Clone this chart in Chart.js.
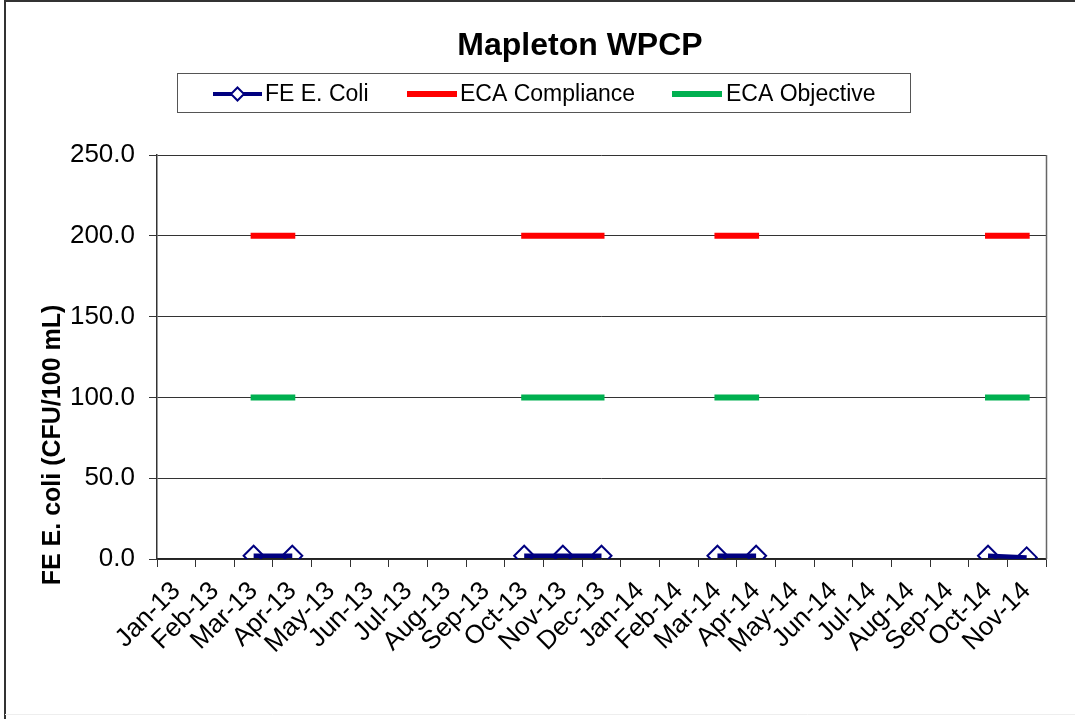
<!DOCTYPE html>
<html>
<head>
<meta charset="utf-8">
<script src="https://cdn.jsdelivr.net/npm/chart.js@4.4.1/dist/chart.umd.min.js"></script>
<style>
  html, body { margin: 0; padding: 0; background: #fff; }
  #wrap { width: 1075px; height: 719px; position: relative; }
</style>
</head>
<body>
<div id="wrap"><canvas id="c" width="1075" height="719"></canvas></div>
<script>
const months = ['Jan-13','Feb-13','Mar-13','Apr-13','May-13','Jun-13','Jul-13','Aug-13','Sep-13','Oct-13','Nov-13','Dec-13',
                'Jan-14','Feb-14','Mar-14','Apr-14','May-14','Jun-14','Jul-14','Aug-14','Sep-14','Oct-14','Nov-14'];
const ecoli = [null,null,2,2,null,null,null,null,null,2,2,2,null,null,2,2,null,null,null,null,null,2,1];
const compliance = [null,null,200,200,null,null,null,null,null,200,200,200,null,null,200,200,null,null,null,null,null,200,200];
const objective = [null,null,100,100,null,null,null,null,null,100,100,100,null,null,100,100,null,null,null,null,null,100,100];
const yTicks = [0, 50, 100, 150, 200, 250];
const seriesNames = ['FE E. Coli', 'ECA Compliance', 'ECA Objective'];
const chartTitle = 'Mapleton WPCP';
const yTitle = 'FE E. coli (CFU/100 mL)';

const FONT = "'Liberation Sans', Arial, sans-serif";
const NAVY = '#000080', RED = '#FF0000', GREEN = '#00B050';

const decor = {
  id: 'decor',
  afterDraw(chart) {
    const ctx = chart.ctx;
    const a = chart.chartArea;
    ctx.save();
    // outer frame
    ctx.strokeStyle = '#333';
    ctx.lineWidth = 2;
    ctx.beginPath();
    ctx.moveTo(5, 719); ctx.lineTo(5, 1); ctx.lineTo(1075, 1);
    ctx.stroke();
    ctx.strokeStyle = '#eee';
    ctx.lineWidth = 1;
    ctx.beginPath(); ctx.moveTo(5, 714.5); ctx.lineTo(1075, 714.5); ctx.stroke();
    // right border of plot
    ctx.strokeStyle = '#666';
    ctx.lineWidth = 1.5;
    ctx.beginPath();
    ctx.moveTo(Math.round(a.right) + 0.5, a.top);
    ctx.lineTo(Math.round(a.right) + 0.5, a.bottom);
    ctx.stroke();
    // title
    ctx.fillStyle = '#000';
    ctx.font = 'bold 32px ' + FONT;
    ctx.textAlign = 'center';
    ctx.textBaseline = 'middle';
    ctx.fillText(chartTitle, 580, 46);
    // y-axis title
    ctx.save();
    ctx.translate(53, 445);
    ctx.rotate(-Math.PI / 2);
    ctx.font = 'bold 25px ' + FONT;
    ctx.fillText(yTitle, 0, 0);
    ctx.restore();
    // legend box
    ctx.strokeStyle = '#555';
    ctx.lineWidth = 1;
    ctx.strokeRect(177.5, 73.5, 733, 39);
    const ly = 94;
    ctx.font = '23px ' + FONT;
    ctx.textAlign = 'left';
    const items = [
      {x1: 213, x2: 262, tx: 265, color: NAVY, w: 4, marker: true},
      {x1: 407, x2: 457, tx: 460, color: RED, w: 6, marker: false},
      {x1: 672, x2: 722, tx: 726, color: GREEN, w: 6, marker: false}
    ];
    items.forEach((it, i) => {
      ctx.strokeStyle = it.color;
      ctx.lineWidth = it.w;
      ctx.lineCap = 'butt';
      ctx.beginPath(); ctx.moveTo(it.x1, ly); ctx.lineTo(it.x2, ly); ctx.stroke();
      if (it.marker) {
        const cx = (it.x1 + it.x2) / 2, r = 6.5;
        ctx.fillStyle = '#fff';
        ctx.lineWidth = 2;
        ctx.beginPath();
        ctx.moveTo(cx, ly - r); ctx.lineTo(cx + r, ly); ctx.lineTo(cx, ly + r); ctx.lineTo(cx - r, ly); ctx.closePath();
        ctx.fill(); ctx.stroke();
      }
      ctx.fillStyle = '#000';
      ctx.fillText(seriesNames[i], it.tx, ly + 1);
    });
    ctx.restore();
  }
};

new Chart(document.getElementById('c'), {
  type: 'line',
  data: {
    labels: months,
    datasets: [
      {
        label: seriesNames[0], data: ecoli,
        borderColor: NAVY, borderWidth: 4.5,
        pointStyle: 'rectRot', pointRadius: 10, pointBorderWidth: 2,
        pointBorderColor: NAVY, pointBackgroundColor: 'rgba(0,0,0,0)',
        spanGaps: false, tension: 0
      },
      {
        label: seriesNames[1], data: compliance,
        borderColor: RED, borderWidth: 6, borderCapStyle: 'square',
        pointRadius: 0, spanGaps: false, tension: 0
      },
      {
        label: seriesNames[2], data: objective,
        borderColor: GREEN, borderWidth: 6, borderCapStyle: 'square',
        pointRadius: 0, spanGaps: false, tension: 0
      }
    ]
  },
  options: {
    responsive: false,
    animation: false,
    devicePixelRatio: 1,
    layout: { padding: { left: 0, right: 29, top: 155, bottom: 0 } },
    plugins: {
      legend: { display: false },
      title: { display: false },
      tooltip: { enabled: false }
    },
    scales: {
      x: {
        type: 'category',
        offset: true,
        grid: { display: true, offset: true, drawOnChartArea: false, drawTicks: true, tickLength: 8, color: '#333', lineWidth: 1 },
        border: { display: true, color: '#222', width: 1.5 },
        ticks: {
          autoSkip: false, minRotation: 45, maxRotation: 45,
          color: '#000', padding: 9,
          font: { family: FONT, size: 26 }
        },
        afterFit(scale) { scale.height = 160; }
      },
      y: {
        min: 0, max: 250,
        afterBuildTicks(scale) { scale.ticks = yTicks.map(v => ({ value: v })); },
        grid: { color: '#333', lineWidth: 1, drawTicks: true, tickLength: 8 },
        border: { display: true, color: '#333', width: 1.5 },
        ticks: {
          color: '#000', padding: 14,
          font: { family: FONT, size: 26 },
          callback: v => Number(v).toFixed(1)
        },
        afterFit(scale) { scale.width = 157; }
      }
    }
  },
  plugins: [decor]
});
</script>
</body>
</html>
